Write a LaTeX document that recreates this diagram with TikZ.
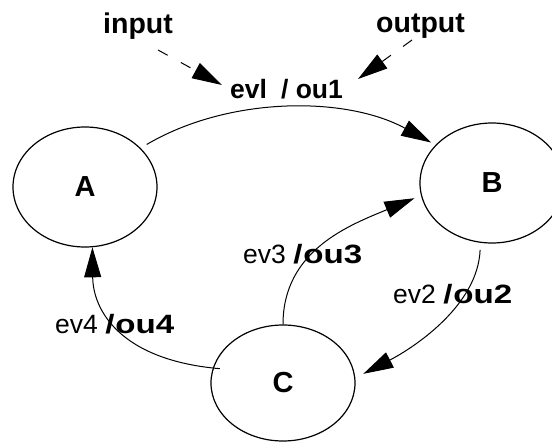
\documentclass[tikz,border=0pt]{standalone}
\usepackage{fontspec}
\setmainfont{Liberation Sans}
\newfontfamily\widebold[FakeStretch=1.25]{Liberation Sans}
\usetikzlibrary{shapes.geometric,arrows.meta}

\begin{document}
\begin{tikzpicture}[x=1pt,y=-1pt,
  statenode/.style={draw, ellipse, line width=1.2pt, minimum width=144pt,
    minimum height=120pt, inner sep=0pt,
    font=\fontsize{29}{29}\selectfont\bfseries},
  trans/.style={line width=1pt, -{Triangle[length=30pt,width=17pt]}},
  hint/.style={trans, dash pattern=on 11pt off 15pt},
  lbl/.style={anchor=base west, inner sep=0pt,
    font=\fontsize{26.5}{26.5}\selectfont},
  toplbl/.style={anchor=base west, inner sep=0pt,
    font=\fontsize{28.5}{28.5}\selectfont\bfseries}]

% canvas
\fill[white] (0,0) rectangle (552,442);
\useasboundingbox (0,0) rectangle (552,442);

% states
\node[statenode] (A) at (85,187) {A};
\node[statenode] (B) at (492,183) {B};
\node[statenode, minimum height=116pt] (C) at (283,383) {C};

% headings and transition labels
\node[toplbl] (inp) at (103,33) {input};
\node[toplbl] (outp) at (376,32) {output};
\node[lbl, font=\fontsize{26.5}{26.5}\selectfont\bfseries] (e1) at (230,98)
  {evl\hspace{14pt}/ ou1};
\node[lbl] (e3) at (243,263) {ev3 {\widebold\bfseries/\hspace{1pt}ou3}};
\node[lbl] (e2) at (393,303) {ev2 {\widebold\bfseries/\hspace{1pt}ou2}};
\node[lbl] (e4) at (55,333) {ev4 {\widebold\bfseries/\hspace{1pt}ou4}};

% pointers to the parts of a label
\coordinate (inTail) at (158,50);
\coordinate (inTip) at (222,85);
\coordinate (outTail) at (412,40);
\coordinate (outTip) at (358,79);
\draw[hint] (inTail) -- (inTip);
\draw[hint] (outTail) -- (outTip);

% transitions
\draw[trans, shorten <=7pt, shorten >=5pt]
  (A.35) .. controls (229,96) and (346,96) .. (B.146);
\draw[trans, shorten >=7pt]
  (C.90) .. controls (283,250) and (350,225) .. (B.190);
\draw[trans, shorten <=7pt, shorten >=9pt]
  (B.259) .. controls (478,305) and (415,347) .. (C.4);
\draw[trans, shorten <=-7pt]
  (C.168) .. controls (120,360) and (93,310) .. (A.277);
\end{tikzpicture}
\end{document}
